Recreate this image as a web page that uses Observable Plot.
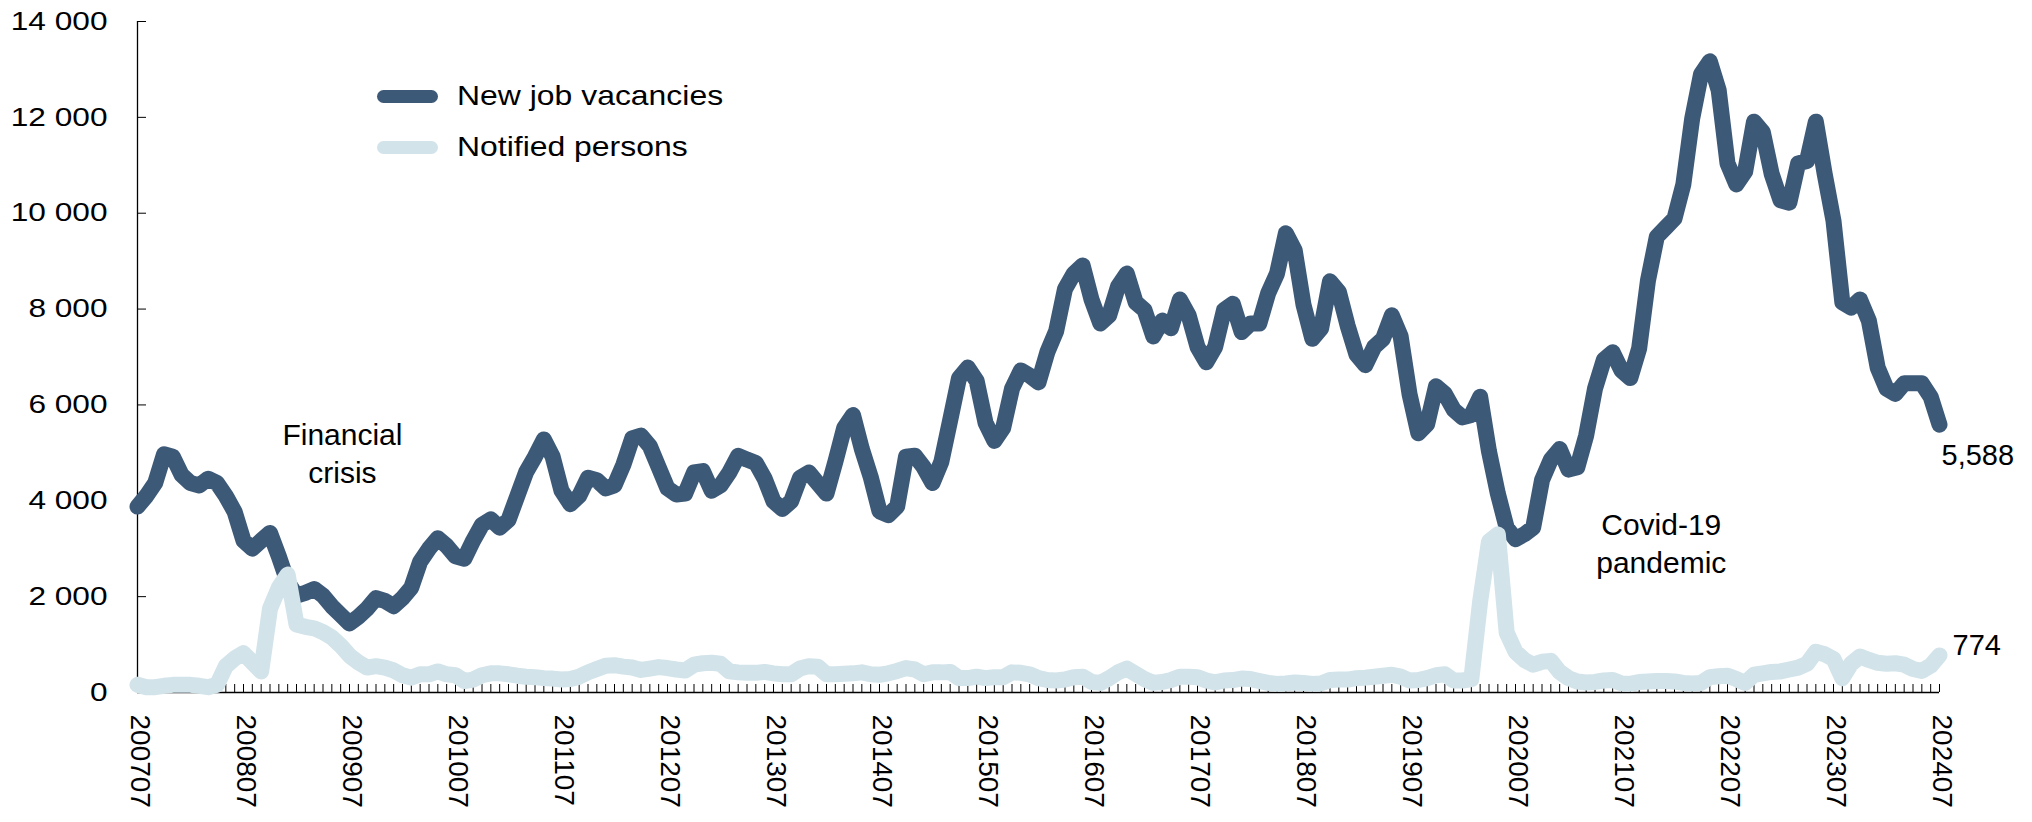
<!DOCTYPE html>
<html><head><meta charset="utf-8">
<script src="https://cdn.jsdelivr.net/npm/d3@7"></script>
<script src="https://cdn.jsdelivr.net/npm/@observablehq/plot@0.6"></script>
<style>
html,body{margin:0;padding:0;background:#fff;}
#wrap{position:relative;width:2032px;height:822px;font-family:"Liberation Sans",Arial,sans-serif;overflow:hidden;}
.leg{position:absolute;left:377px;width:61px;height:13px;border-radius:6.5px;}
.legt{position:absolute;left:457px;font-size:28px;line-height:28px;transform-origin:left center;transform:scaleX(1.14);white-space:nowrap;color:#000;}
</style></head><body><div id="wrap"></div>
<script>
// ---- data ----
const yearLabels = ["200707","200807","200907","201007","201107","201207","201307","201407","201507","201607","201707","201807","201907","202007","202107","202207","202307","202407"];
const seriesNames = ["New job vacancies", "Notified persons"];
const yTicks = [0, 2000, 4000, 6000, 8000, 10000, 12000, 14000];
// monthly values, 2007-07 ... 2024-07 (12 per row)
const vacancies = [
3880,4100,4370,4970,4920,4540,4370,4320,4460,4370,4100,3770,
3170,3000,3170,3330,2840,2300,2020,2080,2160,2020,1800,1620,
1440,1580,1750,1970,1910,1800,1970,2190,2730,3000,3220,3060,
2840,2790,3170,3500,3610,3440,3600,4100,4600,4920,5280,4920,
4210,3930,4100,4480,4430,4260,4320,4750,5300,5360,5140,4700,
4260,4130,4150,4590,4620,4210,4320,4590,4940,4860,4790,4460,
3990,3830,3990,4480,4590,4370,4150,4810,5520,5790,5080,4500,
3780,3700,3880,4920,4940,4700,4370,4810,5680,6560,6780,6500,
5630,5250,5520,6340,6720,6610,6470,7100,7540,8420,8740,8910,
8200,7700,7870,8470,8740,8140,7980,7430,7760,7600,8200,7870,
7210,6890,7210,7980,8110,7520,7700,7700,8330,8740,9580,9230,
8090,7380,7600,8580,8360,7650,7050,6830,7210,7380,7870,7430,
6230,5410,5600,6390,6230,5900,5740,5790,6170,5030,4150,3440,
3200,3300,3440,4430,4860,5080,4650,4700,5360,6340,6940,7100,
6720,6560,7180,8600,9510,9700,9890,10600,11970,12900,13170,12570,
11040,10600,10870,11910,11690,10820,10270,10220,11040,11090,11910,10820,
9840,8140,8030,8200,7760,6780,6340,6230,6450,6450,6450,6170,
5588];
const notified = [
160,110,110,140,160,160,160,140,110,160,550,710,
820,630,440,1750,2190,2460,1420,1370,1340,1260,1150,980,
770,630,520,550,520,460,360,310,380,380,440,380,
360,240,270,360,400,400,380,350,330,320,300,290,
270,280,330,420,490,560,570,540,520,470,500,530,
510,480,460,580,610,620,600,440,420,410,410,430,
400,380,380,500,550,540,380,380,390,400,420,380,
370,400,450,510,480,380,420,420,430,300,300,330,
300,320,320,420,410,380,300,260,250,270,320,330,
220,200,300,420,500,390,280,200,220,260,330,330,
320,250,210,250,260,290,280,240,200,180,190,210,
200,180,190,260,270,270,300,310,330,350,370,330,
250,260,300,360,380,250,250,280,1900,3150,3300,1250,
850,680,580,640,660,430,300,230,210,220,250,260,
190,180,220,230,240,240,230,200,190,200,320,340,
350,280,200,370,400,430,440,480,520,600,850,800,
700,300,600,750,680,620,600,610,580,490,450,560,
774];
const annotationTexts = ["Financial\ncrisis", "Covid-19\npandemic"];
const annotationMonths = [23.2, 172.5];
const annotationValues = [5020, 3150];

// ---- build ----
const colors = ["#3d5978", "#d2e3ea"];
const months = d3.range(vacancies.length);
const yearTicks = yearLabels.map((d, i) => i * 12);
const vacData = months.map(m => ({m, v: vacancies[m]}));
const notData = months.map(m => ({m, v: notified[m]}));
const last = months.length - 1;
const spaceFmt = d => d3.format(",")(d).replace(/,/g, " ");
const annotations = annotationTexts.map((t, i) => ({t, m: annotationMonths[i], v: annotationValues[i]}));

const chart = Plot.plot({
  width: 2032,
  height: 822,
  marginLeft: 137,
  marginRight: 93,
  marginTop: 21,
  marginBottom: 130,
  style: {fontFamily: '"Liberation Sans", Arial, sans-serif', color: "#000", background: "#fff", overflow: "visible"},
  x: {domain: [0, last], label: null},
  y: {domain: [0, 14000], label: null},
  marks: [
    Plot.axisY({ticks: yTicks, tickSize: -9, tickFormat: () => "", stroke: "#000", label: null}),
    Plot.axisY({ticks: yTicks, tickSize: 0, tickPadding: 30, tickFormat: spaceFmt, fontSize: 25.5, fill: "#000", label: null}),
    Plot.axisX({ticks: months, tickSize: -8, tickFormat: () => "", stroke: "#000", label: null}),
    Plot.text(yearTicks, {x: d => d, frameAnchor: "bottom", text: d => yearLabels[d / 12], rotate: 90, textAnchor: "start", lineAnchor: "middle", dy: 22, dx: 2, fontSize: 28, fill: "#000"}),
    Plot.ruleY([0], {stroke: "#000", strokeWidth: 1.3}),
    Plot.ruleX([0], {stroke: "#000", strokeWidth: 1.3}),
    Plot.line(vacData, {x: "m", y: "v", stroke: colors[0], strokeWidth: 16, strokeLinejoin: "round", strokeLinecap: "round"}),
    Plot.line(notData, {x: "m", y: "v", stroke: colors[1], strokeWidth: 16, strokeLinejoin: "round", strokeLinecap: "round"}),
    Plot.text(annotations, {x: "m", y: "v", text: "t", fontSize: 30, lineHeight: 1.27, textAnchor: "middle", lineAnchor: "middle", fill: "#000", ariaLabel: "annot"}),
    Plot.text([vacData[last]], {x: "m", y: "v", text: d => d3.format(",")(d.v), fontSize: 29, textAnchor: "start", lineAnchor: "middle", dx: 2, dy: 31, fill: "#000", ariaLabel: "annot"}),
    Plot.text([notData[last]], {x: "m", y: "v", text: d => d3.format(",")(d.v), fontSize: 29, textAnchor: "start", lineAnchor: "middle", dx: 13, dy: -10, fill: "#000", ariaLabel: "annot"})
  ]
});

const wrap = document.getElementById("wrap");
wrap.appendChild(chart);

// horizontal stretch of texts to match the reference glyph proportions
function stretch(nodes, f) {
  nodes.forEach(n => {
    const L = n.getComputedTextLength();
    if (L > 0) { n.setAttribute("textLength", L * f); n.setAttribute("lengthAdjust", "spacingAndGlyphs"); }
  });
}
stretch(chart.querySelectorAll('[aria-label="y-axis tick label"] text'), 1.24);
chart.querySelectorAll('[aria-label="annot"] text').forEach(t => {
  const spans = t.querySelectorAll("tspan");
  stretch(spans.length ? spans : [t], 1.08);
});

// legend
const legTops = [96, 147];
seriesNames.forEach((name, i) => {
  const ln = document.createElement("div");
  ln.className = "leg";
  ln.style.top = (legTops[i] - 6.5) + "px";
  ln.style.background = colors[i];
  wrap.appendChild(ln);
  const tx = document.createElement("div");
  tx.className = "legt";
  tx.style.top = (legTops[i] - 14) + "px";
  tx.textContent = name;
  wrap.appendChild(tx);
});

if (vacancies.length !== 205 || notified.length !== 205) {
  const w = document.createElement("div");
  w.style.cssText = "position:absolute;left:800px;top:10px;color:red;font-size:20px";
  w.textContent = "LEN " + vacancies.length + " " + notified.length;
  wrap.appendChild(w);
}
</script>
</body></html>
